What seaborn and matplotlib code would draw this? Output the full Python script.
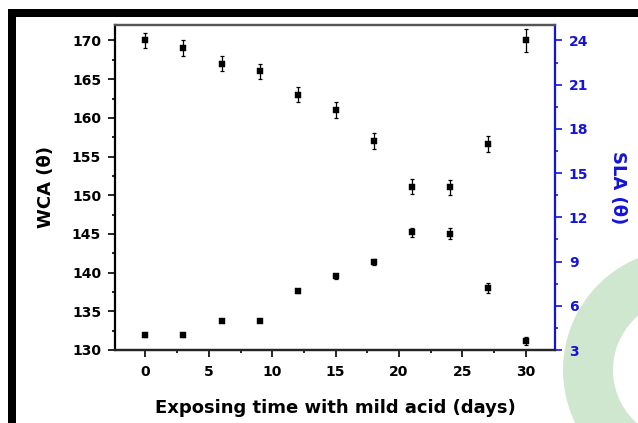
import matplotlib
matplotlib.use("Agg")
import matplotlib.pyplot as plt
import matplotlib.patches as mpatches
import matplotlib.transforms as mtransforms
from matplotlib.ticker import MultipleLocator
import pandas as pd
import seaborn as sns

# ==========================
# Data
# ==========================

days = [0, 3, 6, 9, 12, 15, 18, 21, 24, 27, 30]

wca = [170, 169, 167, 166, 163, 161, 157, 151.1, 151, 138, 131.2]
wca_err = [1.0, 1.0, 1.0, 1.0, 1.0, 1.0, 1.0, 1.0, 1.0, 0.6, 0.5]

sla = [4.0, 4.0, 5.0, 5.0, 7.0, 8.0, 9.0, 11.0, 10.9, 17.0, 24.0]
sla_err = [0.1, 0.1, 0.1, 0.1, 0.15, 0.15, 0.2, 0.3, 0.35, 0.55, 0.8]

df = pd.DataFrame({"days": days, "wca": wca, "wca_err": wca_err,
                   "sla": sla, "sla_err": sla_err})

BLUE = "#1414d8"

# ==========================
# Figure
# ==========================

sns.set_style("ticks")
plt.rcParams["font.family"] = ["DejaVu Sans"]
plt.rcParams["font.weight"] = "bold"
plt.rcParams["text.color"] = "black"
plt.rcParams["axes.labelcolor"] = "black"
plt.rcParams["xtick.color"] = "black"
plt.rcParams["ytick.color"] = "black"

fig = plt.figure(figsize=(6.38, 4.23), dpi=100)
px = mtransforms.IdentityTransform()

# green ring (background decoration)
fig.add_artist(mpatches.Wedge((684, 53), 121, 0, 360, width=50,
                              facecolor="#cfe6cf", edgecolor="none",
                              transform=px, zorder=0))
# black frame pieces
fig.add_artist(mpatches.Rectangle((8, 406), 630, 8, facecolor="black",
                                  edgecolor="none", transform=px, zorder=0))
fig.add_artist(mpatches.Rectangle((8, 0), 8, 414, facecolor="black",
                                  edgecolor="none", transform=px, zorder=0))

ax = fig.add_axes([115 / 638, 73 / 423, 440 / 638, 325 / 423])
ax.set_facecolor("none")
ax2 = ax.twinx()

# --------------------------
# WCA (left)
# --------------------------
ax.errorbar(df["days"], df["wca"], yerr=df["wca_err"], fmt="none",
            ecolor="black", elinewidth=0.9, capsize=1.5, capthick=0.9)
sns.scatterplot(data=df, x="days", y="wca", ax=ax, marker="s", s=14,
                color="black", edgecolor="black", linewidth=0.3, zorder=3)

# --------------------------
# SLA (right)
# --------------------------
ax2.errorbar(df["days"], df["sla"], yerr=df["sla_err"], fmt="none",
             ecolor="black", elinewidth=0.9, capsize=1.5, capthick=0.9)
sns.scatterplot(data=df, x="days", y="sla", ax=ax2, marker="s", s=14,
                color="black", edgecolor="black", linewidth=0.3, zorder=3)

# --------------------------
# Axes
# --------------------------
ax.set_xlim(-2.4, 32.3)
ax.set_ylim(130, 172)
ax2.set_ylim(3, 25.05)

ax.xaxis.set_major_locator(MultipleLocator(5))
ax.xaxis.set_minor_locator(MultipleLocator(2.5))
ax.yaxis.set_major_locator(MultipleLocator(5))
ax.yaxis.set_minor_locator(MultipleLocator(2.5))
ax2.yaxis.set_major_locator(MultipleLocator(3))
ax2.yaxis.set_minor_locator(MultipleLocator(1.5))

ax.tick_params(axis="both", which="major", direction="out", length=5,
               width=1.2, labelsize=10, pad=5, colors="black")
ax.tick_params(axis="both", which="minor", direction="out", length=2.5,
               width=1.2, colors="black")
ax.tick_params(axis="x", pad=6)
ax2.tick_params(axis="y", which="major", direction="out", length=5,
                width=1.2, labelsize=10, pad=5, colors=BLUE)
ax2.tick_params(axis="y", which="minor", direction="out", length=2.5,
                width=1.2, colors=BLUE)

for lab in ax.get_xticklabels() + ax.get_yticklabels() + ax2.get_yticklabels():
    lab.set_fontweight("bold")

for a in (ax, ax2):
    for s in a.spines.values():
        s.set_linewidth(1.6)
ax.spines["top"].set_color("#555555")
ax2.spines["top"].set_color("#555555")
ax.spines["bottom"].set_color("#222222")
ax.spines["left"].set_color("black")
ax2.spines["right"].set_color(BLUE)
ax2.spines["left"].set_visible(False)
ax.spines["right"].set_visible(False)

ax.set_xlabel("Exposing time with mild acid (days)", fontsize=13,
              fontweight="bold", color="black", labelpad=14)
ax.set_ylabel("WCA (θ)", fontsize=13, fontweight="bold", color="black",
              labelpad=12)
ax2.set_ylabel("SLA (θ)", fontsize=13, fontweight="bold", color=BLUE,
               rotation=270, labelpad=28)

fig.savefig("out.png", dpi=100)
